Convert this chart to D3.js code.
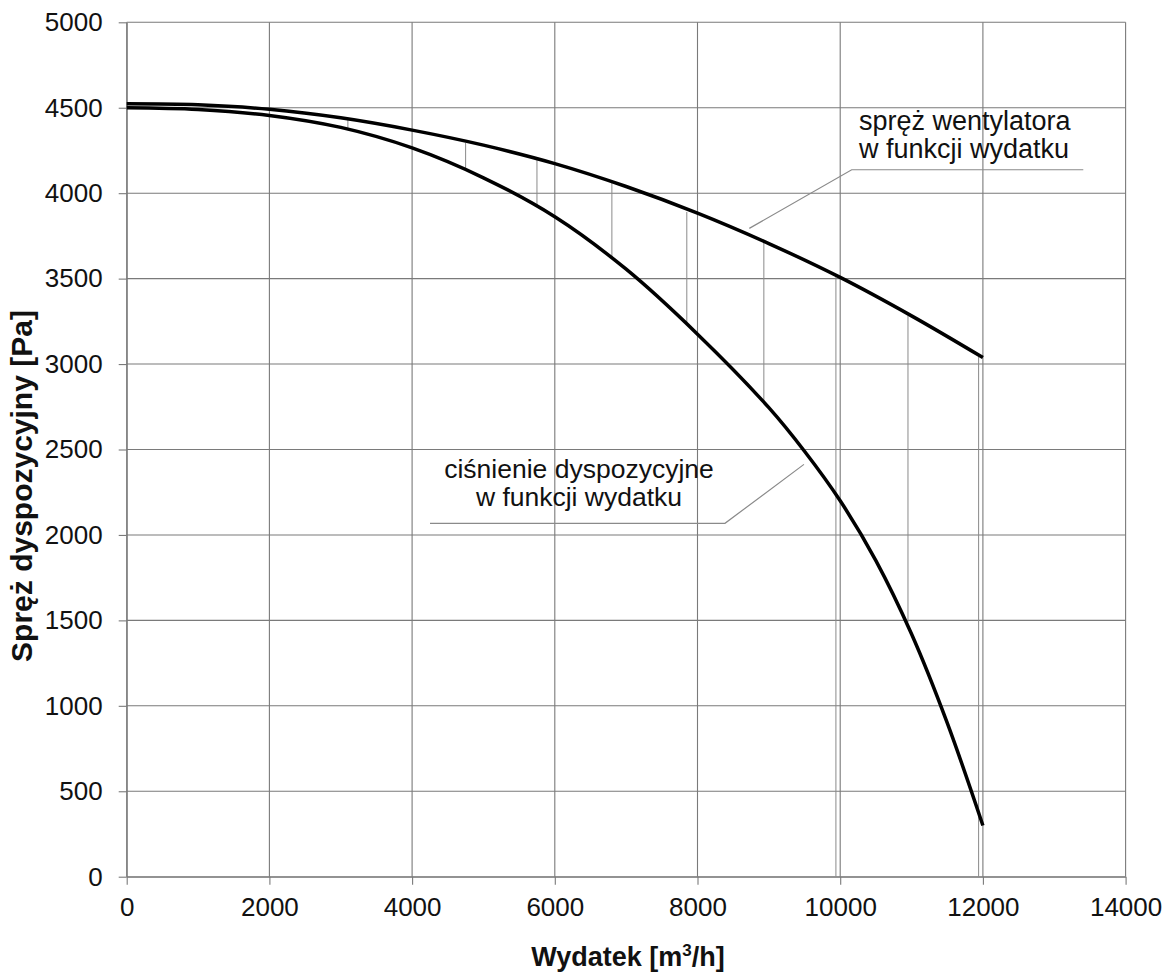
<!DOCTYPE html>
<html><head><meta charset="utf-8">
<script src="https://cdn.jsdelivr.net/npm/d3@7"></script>
<style>
html,body{margin:0;padding:0;background:#fff;}
svg{display:block;font-family:"Liberation Sans",Arial,sans-serif;}
</style></head>
<body>
<svg id="chart" width="1171" height="974"></svg>
<script>
// Data
const flowX      = [0, 1000, 2000, 3000, 4000, 5000, 6000, 7000, 8000, 9000, 10000, 11000, 12000];
const fanPress   = [4523, 4517, 4491, 4441, 4369, 4281, 4173, 4039, 3883, 3705, 3507, 3282, 3038];
const availX     = [0, 1000, 2000, 3000, 4000, 5000, 6000, 7000, 8000, 9000, 9500, 10000, 10500, 11000, 11500, 12000];
const availPress = [4500, 4490, 4455, 4385, 4265, 4090, 3862, 3555, 3175, 2745, 2490, 2200, 1850, 1420, 900, 300];
const dropX      = [3100, 4750, 5750, 6800, 7850, 8930, 9940, 10950, 11940];
const dropTop    = [4435, 4294, 4194, 4060, 3890, 3709, 3515, 3283, 3043];
const dropBottom = [4380, 4136, 3919, 3627, 3240, 2777, 0, 1490, 0];
const xTicks = [0, 2000, 4000, 6000, 8000, 10000, 12000, 14000];
const yTicks = [0, 500, 1000, 1500, 2000, 2500, 3000, 3500, 4000, 4500, 5000];
const yTitle = "Spręż dyspozycyjny [Pa]";
const fanLabel = ["spręż wentylatora", "w funkcji wydatku"];
const availLabel = ["ciśnienie dyspozycyjne", "w funkcji wydatku"];
// annotation anchors in data units
const fanLeader = [[13407, 4137], [10161, 4137], [8726, 3794]];
const availLeader = [[4251, 2068], [8385, 2068], [9492, 2413]];

const svg = d3.select("#chart");
const L = 126.7, R = 1125.6, T = 22.3, B = 876.7;
const x = d3.scaleLinear().domain([0, 14000]).range([L, R]);
const y = d3.scaleLinear().domain([0, 5000]).range([B, T]);
const grid = "#7a7a7a";

// gridlines
svg.append("g").selectAll("line").data(yTicks).join("line")
  .attr("x1", L).attr("x2", R).attr("y1", d => y(d)).attr("y2", d => y(d))
  .attr("stroke", grid).attr("stroke-width", 1.1);
svg.append("g").selectAll("line").data(xTicks).join("line")
  .attr("y1", T).attr("y2", B).attr("x1", d => x(d)).attr("x2", d => x(d))
  .attr("stroke", grid).attr("stroke-width", 1.1);

// axes
const yAxis = svg.append("g").attr("transform", `translate(${L},0)`)
  .call(d3.axisLeft(y).tickValues(yTicks).tickSize(8).tickSizeOuter(0).tickPadding(16).tickFormat(d3.format("d")));
const xAxis = svg.append("g").attr("transform", `translate(0,${B})`)
  .call(d3.axisBottom(x).tickValues(xTicks).tickSize(8).tickSizeOuter(0).tickPadding(13).tickFormat(d3.format("d")));
[yAxis, xAxis].forEach(a => {
  a.select(".domain").attr("stroke", grid).attr("stroke-width", 1.1);
  a.selectAll(".tick line").attr("stroke", grid).attr("stroke-width", 1.1);
  a.selectAll(".tick text").attr("fill", "#111").style("font-size", "26px")
    .style("font-family", "Liberation Sans, Arial, sans-serif");
});

// drop lines
svg.append("g").selectAll("line").data(dropX).join("line")
  .attr("x1", d => x(d)).attr("x2", d => x(d))
  .attr("y1", (d, i) => y(dropTop[i])).attr("y2", (d, i) => y(dropBottom[i]))
  .attr("stroke", "#8a8a8a").attr("stroke-width", 1);

// curves
const line = d3.line().x(d => x(d[0])).y(d => y(d[1])).curve(d3.curveCatmullRom.alpha(0.5));
svg.append("path").attr("d", line(flowX.map((v, i) => [v, fanPress[i]])))
  .attr("fill", "none").attr("stroke", "#000").attr("stroke-width", 3.5);
svg.append("path").attr("d", line(availX.map((v, i) => [v, availPress[i]])))
  .attr("fill", "none").attr("stroke", "#000").attr("stroke-width", 3.5);

// leaders
const straight = d3.line().x(d => x(d[0])).y(d => y(d[1]));
[fanLeader, availLeader].forEach(p => svg.append("path").attr("d", straight(p))
  .attr("fill", "none").attr("stroke", "#8a8a8a").attr("stroke-width", 1.2));

// annotation texts
svg.append("g").selectAll("text").data(fanLabel).join("text")
  .attr("x", x(10263)).attr("y", (d, i) => y(4370) + i * 28.5)
  .attr("font-size", 27).attr("fill", "#111").text(d => d);
svg.append("g").selectAll("text").data(availLabel).join("text")
  .attr("x", x(6339)).attr("y", (d, i) => y(2335) + i * 28.5)
  .attr("text-anchor", "middle").attr("font-size", 26.5).attr("fill", "#111").text(d => d);

// axis titles
const xt = svg.append("text").attr("x", 628).attr("y", 966).attr("text-anchor", "middle")
  .attr("font-size", 27).attr("font-weight", "bold").attr("fill", "#111");
xt.append("tspan").text("Wydatek [m");
xt.append("tspan").attr("font-size", 17).attr("dy", -10).text("3");
xt.append("tspan").attr("dy", 10).text("/h]");
svg.append("text").attr("transform", "translate(32,486) rotate(-90)")
  .attr("text-anchor", "middle").attr("font-size", 30).attr("font-weight", "bold")
  .attr("fill", "#111").text(yTitle);
</script>
</body></html>
